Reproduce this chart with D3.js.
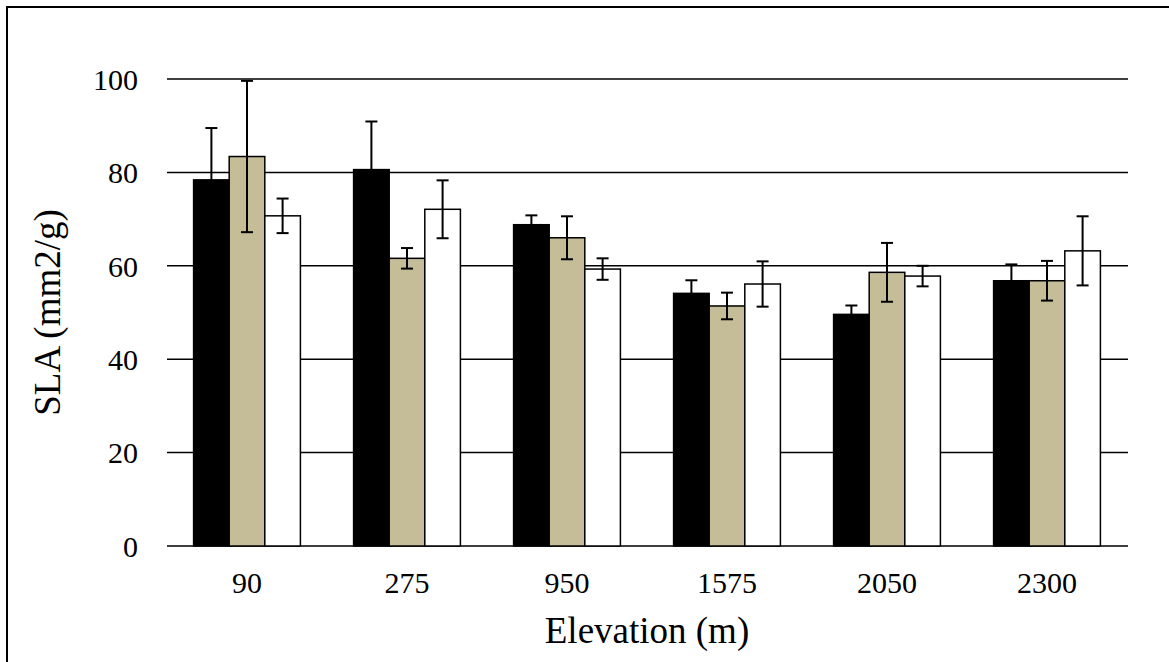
<!DOCTYPE html>
<html>
<head>
<meta charset="utf-8">
<script src="https://cdn.jsdelivr.net/npm/d3@7"></script>
<style>
  html, body { margin: 0; padding: 0; background: #fff; }
  svg { display: block; }
  text { font-family: "Liberation Serif", "Times New Roman", serif; fill: #000; }
</style>
</head>
<body>
<svg id="chart" width="1169" height="662"></svg>
<script>
// ---- data ----
const categories = ["90", "275", "950", "1575", "2050", "2300"];
const seriesNames = ["black", "tan", "white"];
const blackValues = [78.4, 80.6, 68.8, 54.1, 49.6, 56.8];
const blackErrors = [11.1, 10.3, 2.0, 2.8, 1.9, 3.5];
const tanValues = [83.4, 61.6, 66.0, 51.4, 58.6, 56.8];
const tanErrors = [16.2, 2.2, 4.6, 2.85, 6.3, 4.25];
const whiteValues = [70.7, 72.1, 59.3, 56.1, 57.8, 63.2];
const whiteErrors = [3.7, 6.2, 2.3, 4.85, 2.2, 7.4];
const yTicks = [0, 20, 40, 60, 80, 100];
const xTitle = "Elevation (m)";
const yTitle = "SLA (mm2/g)";

const seriesValues = [blackValues, tanValues, whiteValues];
const seriesErrors = [blackErrors, tanErrors, whiteErrors];
const seriesFill = ["#000000", "#C4BD97", "#FFFFFF"];

const svg = d3.select("#chart");

// outer border (extends off page on right/bottom)
svg.append("rect")
  .attr("x", 7).attr("y", 7)
  .attr("width", 1200).attr("height", 700)
  .attr("fill", "none").attr("stroke", "#000").attr("stroke-width", 2);

const plotLeft = 167, plotRight = 1127, plotTop = 79, plotBottom = 546;

const x0 = d3.scaleBand().domain(categories).range([plotLeft, plotRight]).padding(0);
const x1 = d3.scaleBand().domain(seriesNames).range([0, x0.bandwidth()])
  .paddingInner(0).paddingOuter(0.747);
const y = d3.scaleLinear().domain([0, 100]).range([plotBottom, plotTop]);

// gridlines
svg.append("g").selectAll("line").data(yTicks).join("line")
  .attr("x1", plotLeft).attr("x2", plotRight + 1)
  .attr("y1", d => y(d)).attr("y2", d => y(d))
  .attr("stroke", "#000").attr("stroke-width", 1.5);

// y axis labels
const yAxis = svg.append("g").attr("transform", `translate(${plotLeft},0)`)
  .call(d3.axisLeft(y).tickValues(yTicks).tickSize(0).tickPadding(29).tickFormat(d3.format("d")));
yAxis.select(".domain").remove();
yAxis.selectAll("text").style("font-size", "30px").style("font-family", "Liberation Serif").attr("dy", "0.34em");

// x axis labels
const xAxis = svg.append("g").attr("transform", `translate(0,${plotBottom})`)
  .call(d3.axisBottom(x0).tickSize(0));
xAxis.select(".domain").remove();
xAxis.selectAll("text").style("font-size", "30px").style("font-family", "Liberation Serif")
  .attr("y", 47).attr("dy", null);

// bars
const rows = [];
categories.forEach((c, i) => {
  seriesNames.forEach((s, j) => {
    rows.push({ cat: c, ser: s, j: j, v: seriesValues[j][i], e: seriesErrors[j][i] });
  });
});

svg.append("g").selectAll("rect").data(rows).join("rect")
  .attr("x", d => x0(d.cat) + x1(d.ser))
  .attr("y", d => y(d.v))
  .attr("width", x1.bandwidth())
  .attr("height", d => y(0) - y(d.v))
  .attr("fill", d => seriesFill[d.j])
  .attr("stroke", "#000").attr("stroke-width", 1.5);

// error bars
const eb = svg.append("g").attr("stroke", "#000").attr("stroke-width", 2);
const cx = d => x0(d.cat) + x1(d.ser) + x1.bandwidth() / 2;
eb.selectAll("line.v").data(rows).join("line").attr("class", "v")
  .attr("x1", cx).attr("x2", cx)
  .attr("y1", d => y(d.v + d.e)).attr("y2", d => y(d.v - d.e));
eb.selectAll("line.t").data(rows).join("line").attr("class", "t")
  .attr("x1", d => cx(d) - 6).attr("x2", d => cx(d) + 6)
  .attr("y1", d => y(d.v + d.e)).attr("y2", d => y(d.v + d.e));
eb.selectAll("line.b").data(rows).join("line").attr("class", "b")
  .attr("x1", d => cx(d) - 6).attr("x2", d => cx(d) + 6)
  .attr("y1", d => y(d.v - d.e)).attr("y2", d => y(d.v - d.e));

// titles
svg.append("text")
  .attr("x", (plotLeft + plotRight) / 2).attr("y", 643)
  .attr("text-anchor", "middle")
  .style("font-size", "37px")
  .text(xTitle);

svg.append("text")
  .attr("transform", `translate(60,${(plotTop + plotBottom) / 2}) rotate(-90)`)
  .attr("text-anchor", "middle")
  .style("font-size", "37px")
  .text(yTitle);
</script>
</body>
</html>
